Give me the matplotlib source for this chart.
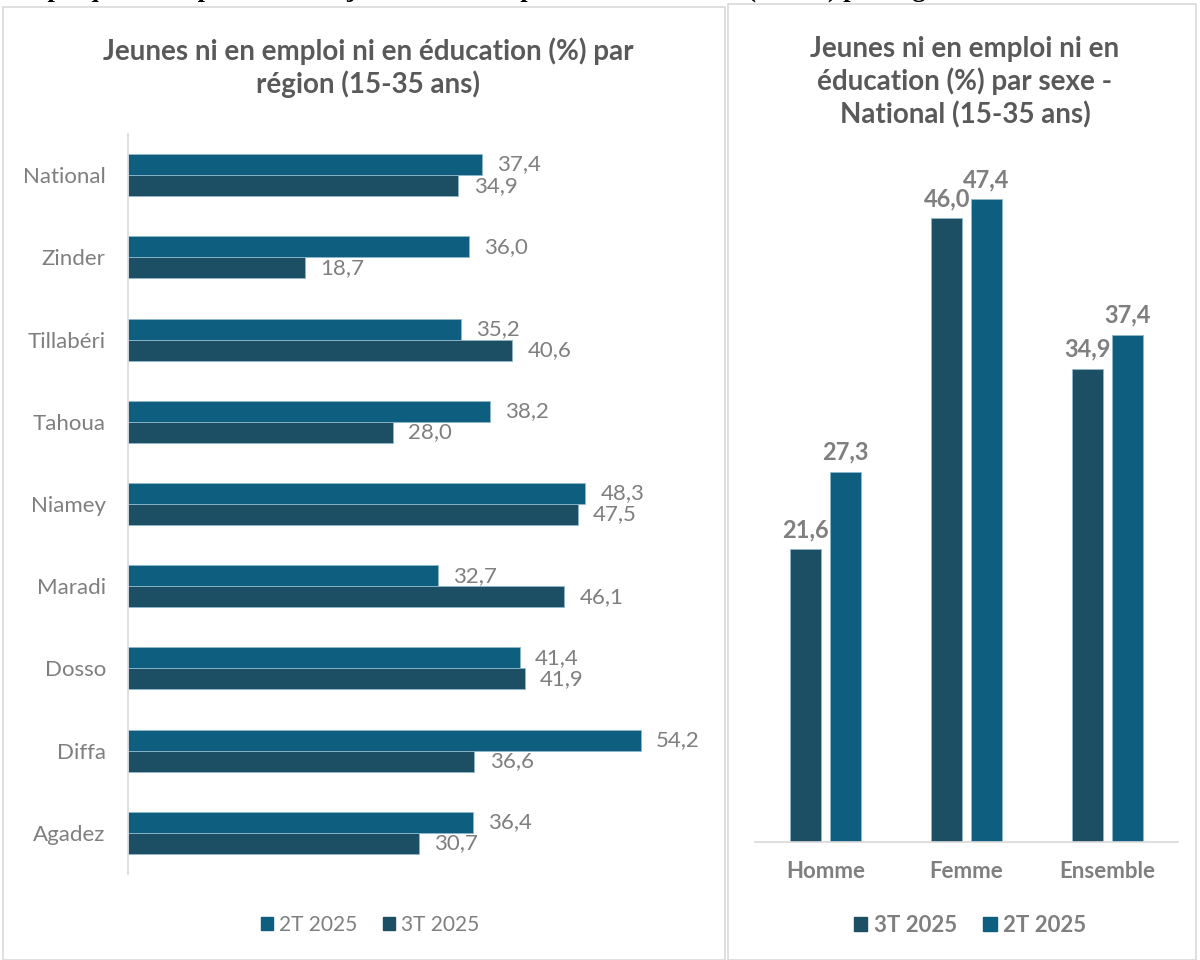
import matplotlib.pyplot as plt
from matplotlib.patches import Rectangle, Patch
import numpy as np

plt.rcParams['font.family'] = ['Lato', 'DejaVu Sans']

regions = ['National', 'Zinder', 'Tillabéri', 'Tahoua', 'Niamey',
           'Maradi', 'Dosso', 'Diffa', 'Agadez']
reg_2t = [37.4, 36.0, 35.2, 38.2, 48.3, 32.7, 41.4, 54.2, 36.4]
reg_3t = [34.9, 18.7, 40.6, 28.0, 47.5, 46.1, 41.9, 36.6, 30.7]

sexes = ['Homme', 'Femme', 'Ensemble']
sex_3t = [21.6, 46.0, 34.9]
sex_2t = [27.3, 47.4, 37.4]

c2 = '#0E5E80'
c3 = '#1C4F64'
edge = '#8FB8CC'
grey = '#7F7F7F'
title_c = '#595959'

W, H = 1200, 960
fig = plt.figure(figsize=(12, 9.6), dpi=100)

def fx(px):
    return px / W

def fy(py):
    return 1 - py / H

# cut-off heading at the very top (only the bottom of the glyphs shows)
fig.text(fx(2), fy(-3), 'Graphique 4 : Répartition des jeunes ni en emploi ni en éducation (NEET) par région et sexe',
         family='Liberation Serif', fontweight='bold', fontsize=19, va='baseline', ha='left')

# panel frames
fig.patches.append(Rectangle((fx(3), fy(960)), fx(722), (960 - 8) / H + 0.001,
                             transform=fig.transFigure, fill=False, ec='#D9D9D9', lw=1.2))
fig.patches.append(Rectangle((fx(728), fy(960)), fx(468), (960 - 5) / H + 0.001,
                             transform=fig.transFigure, fill=False, ec='#D9D9D9', lw=1.2))

# ---- left: horizontal bars by region
ax = fig.add_axes([fx(128), fy(874), fx(568), (874 - 134) / H])
y = np.arange(len(regions))
h = 0.256
ax.barh(y - h / 2, reg_2t, height=h, color=c2, ec=edge, lw=0.6, label='2T 2025')
ax.barh(y + h / 2, reg_3t, height=h, color=c3, ec=edge, lw=0.6, label='3T 2025')
for i in range(len(regions)):
    ax.text(reg_2t[i] + 1.6, y[i] - h / 2, f'{reg_2t[i]:.1f}'.replace('.', ','),
            va='center', ha='left', fontsize=16, color=grey)
    ax.text(reg_3t[i] + 1.6, y[i] + h / 2, f'{reg_3t[i]:.1f}'.replace('.', ','),
            va='center', ha='left', fontsize=16, color=grey)
ax.set_xlim(0, 60)
ax.set_ylim(len(regions) - 0.5, -0.5)
ax.set_yticks(y)
ax.set_yticklabels(regions, fontsize=16, color=grey)
ax.set_xticks([])
ax.tick_params(axis='y', length=0, pad=16)
for s in ['top', 'right', 'bottom']:
    ax.spines[s].set_visible(False)
ax.spines['left'].set_color('#D9D9D9')
ax.spines['left'].set_linewidth(1.2)

fig.text(fx(368), fy(68), 'Jeunes ni en emploi ni en éducation (%) par\nrégion (15-35 ans)',
         ha='center', va='center', fontsize=20, fontweight='bold', color=title_c, linespacing=1.25)
fig.legend(handles=[Patch(color=c2, label='2T 2025'), Patch(color=c3, label='3T 2025')],
           loc='center', bbox_to_anchor=(fx(370), fy(925)), ncol=2, frameon=False,
           fontsize=15, labelcolor=grey, handlelength=0.6, handleheight=0.6,
           handletextpad=0.3, columnspacing=1.2)

# ---- right: vertical bars by sex
ax2 = fig.add_axes([fx(755), fy(842), fx(423), (842 - 130) / H])
x = np.arange(len(sexes))
w = 0.22
ax2.bar(x - w / 2 - 0.03, sex_3t, width=w, color=c3, ec=edge, lw=0.6)
ax2.bar(x + w / 2 + 0.03, sex_2t, width=w, color=c2, ec=edge, lw=0.6)
for i in range(len(sexes)):
    ax2.text(x[i] - w / 2 - 0.03, sex_3t[i] + 0.6, f'{sex_3t[i]:.1f}'.replace('.', ','),
             ha='center', va='bottom', fontsize=17, fontweight='bold', color=grey)
    ax2.text(x[i] + w / 2 + 0.03, sex_2t[i] + 0.6, f'{sex_2t[i]:.1f}'.replace('.', ','),
             ha='center', va='bottom', fontsize=17, fontweight='bold', color=grey)
ax2.set_xlim(-0.5, 2.5)
ax2.set_ylim(0, 712 / 13.56)
ax2.set_xticks(x)
ax2.set_xticklabels(sexes, fontsize=16, fontweight='bold', color=grey)
ax2.set_yticks([])
ax2.tick_params(axis='x', length=0, pad=14)
for s in ['top', 'right', 'left']:
    ax2.spines[s].set_visible(False)
ax2.spines['bottom'].set_color('#D9D9D9')
ax2.spines['bottom'].set_linewidth(1.2)

fig.text(fx(965), fy(82), 'Jeunes ni en emploi ni en\néducation (%) par sexe -\nNational (15-35 ans)',
         ha='center', va='center', fontsize=20, fontweight='bold', color=title_c, linespacing=1.25)
fig.legend(handles=[Patch(color=c3, label='3T 2025'), Patch(color=c2, label='2T 2025')],
           loc='center', bbox_to_anchor=(fx(970), fy(925)), ncol=2, frameon=False,
           prop={'size': 16, 'weight': 'bold'}, labelcolor=grey, handlelength=0.6,
           handleheight=0.6, handletextpad=0.3, columnspacing=1.2)

fig.savefig('out.png', dpi=100)
